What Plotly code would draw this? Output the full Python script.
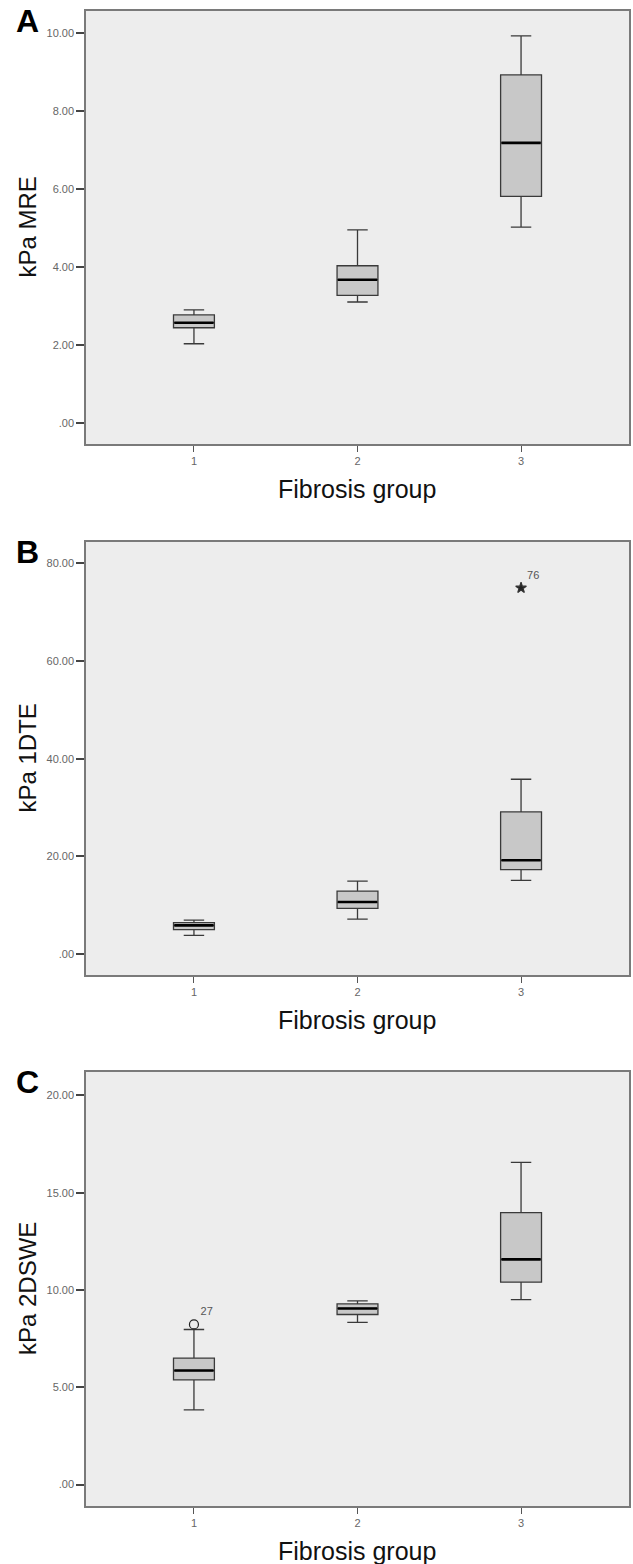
import plotly.graph_objects as go

W, H = 633, 1564

groups = [1, 2, 3]
group_labels = ["1", "2", "3"]

# Panel A: kPa MRE
mre_low = [2.03, 3.10, 5.02]
mre_q1 = [2.44, 3.27, 5.81]
mre_med = [2.57, 3.67, 7.18]
mre_q3 = [2.77, 4.03, 8.92]
mre_high = [2.90, 4.95, 9.92]

# Panel B: kPa 1DTE
dte_low = [3.82, 7.16, 15.1]
dte_q1 = [4.98, 9.35, 17.3]
dte_med = [5.87, 10.64, 19.2]
dte_q3 = [6.41, 12.9, 29.1]
dte_high = [6.96, 14.94, 35.8]
dte_out_x = [3]
dte_out_y = [75.0]
dte_out_lbl = ["76"]

# Panel C: kPa 2DSWE
swe_low = [3.84, 8.33, 9.5]
swe_q1 = [5.38, 8.74, 10.4]
swe_med = [5.86, 9.05, 11.57]
swe_q3 = [6.5, 9.29, 13.97]
swe_high = [7.97, 9.44, 16.56]
swe_out_x = [1]
swe_out_y = [8.23]
swe_out_lbl = ["27"]

mre_ticks = [0, 2, 4, 6, 8, 10]
dte_ticks = [0, 20, 40, 60, 80]
swe_ticks = [0, 5, 10, 15, 20]


def fx(px):
    return px / W


def fy(py):
    return 1 - py / H


panels = [
    dict(letter="A", title="kPa MRE", low=mre_low, q1=mre_q1, med=mre_med, q3=mre_q3, high=mre_high,
         ticks=mre_ticks, yr=[-0.54, 10.56], top=11, bot=444, out=None),
    dict(letter="B", title="kPa 1DTE", low=dte_low, q1=dte_q1, med=dte_med, q3=dte_q3, high=dte_high,
         ticks=dte_ticks, yr=[-4.3, 84.4], top=542, bot=975,
         out=(dte_out_x, dte_out_y, dte_out_lbl, "star")),
    dict(letter="C", title="kPa 2DSWE", low=swe_low, q1=swe_q1, med=swe_med, q3=swe_q3, high=swe_high,
         ticks=swe_ticks, yr=[-1.1, 21.2], top=1072, bot=1506,
         out=(swe_out_x, swe_out_y, swe_out_lbl, "circle-open")),
]

BOXW = 0.25
fig = go.Figure()
layout = dict(width=W, height=H, margin=dict(l=0, r=0, t=0, b=0),
              paper_bgcolor="white", plot_bgcolor="#ededed", showlegend=False,
              font=dict(family="Liberation Sans, Arial, sans-serif"))
annotations = []


def fmt(v):
    s = f"{v:.2f}"
    return s[1:] if s.startswith("0") else s


for i, p in enumerate(panels):
    k = "" if i == 0 else str(i + 1)
    xa, ya = "x" + k, "y" + k
    fig.add_trace(go.Box(
        x=groups, q1=p["q1"], median=p["med"], q3=p["q3"],
        lowerfence=p["low"], upperfence=p["high"],
        width=BOXW, whiskerwidth=0.5, fillcolor="#c8c8c8",
        line=dict(color="#3a3a3a", width=1.3), boxpoints=False,
        xaxis=xa, yaxis=ya, hoverinfo="skip"))
    mx, my = [], []
    for g, m in zip(groups, p["med"]):
        mx += [g - BOXW / 2 + 0.005, g + BOXW / 2 - 0.005, None]
        my += [m, m, None]
    fig.add_trace(go.Scatter(x=mx, y=my, mode="lines", line=dict(color="black", width=2.6),
                             xaxis=xa, yaxis=ya, hoverinfo="skip"))
    if p["out"] is not None:
        ox, oy, ol, sym = p["out"]
        fig.add_trace(go.Scatter(
            x=ox, y=oy, mode="markers+text", text=ol, textposition="top right",
            textfont=dict(size=11, color="#555"),
            marker=dict(symbol=sym, size=8 if sym == "star" else 9, color="#222",
                        line=dict(color="#333", width=1.2)),
            xaxis=xa, yaxis=ya, hoverinfo="skip"))
    layout["xaxis" + k] = dict(domain=[fx(86), fx(629)], range=[0.34, 3.66], anchor=ya,
                               tickmode="array", tickvals=groups, ticktext=group_labels,
                               ticks="outside", ticklen=6, tickcolor="#555", tickwidth=1,
                               tickfont=dict(size=11, color="#666"),
                               showgrid=False, zeroline=False, showline=True, mirror=True,
                               linecolor="#7a7a7a", linewidth=1.5)
    layout["yaxis" + k] = dict(domain=[fy(p["bot"]), fy(p["top"])], range=p["yr"], anchor=xa,
                               tickmode="array", tickvals=p["ticks"],
                               ticktext=[fmt(v) for v in p["ticks"]],
                               ticks="outside", ticklen=8, tickcolor="#444", tickwidth=1.5,
                               tickfont=dict(size=11, color="#666"),
                               showgrid=False, zeroline=False, showline=True, mirror=True,
                               linecolor="#7a7a7a", linewidth=1.5)
    annotations.append(dict(text=p["title"], x=fx(27), y=fy((p["top"] + p["bot"]) / 2),
                            xref="paper", yref="paper", textangle=-90, showarrow=False,
                            font=dict(size=24, color="#111"), xanchor="center", yanchor="middle"))
    annotations.append(dict(text="Fibrosis group", x=fx(357), y=fy(p["bot"] + 45),
                            xref="paper", yref="paper", showarrow=False,
                            font=dict(size=25, color="#111"), xanchor="center", yanchor="middle"))
    annotations.append(dict(text="<b>" + p["letter"] + "</b>", x=fx(27), y=fy(p["top"] + 10),
                            xref="paper", yref="paper", showarrow=False,
                            font=dict(size=32, color="black"), xanchor="center", yanchor="middle"))

layout["annotations"] = annotations
fig.update_layout(**layout)
fig.write_html("out.html", config={"displayModeBar": False},
               post_script="document.body.style.margin='0';document.body.style.overflow='hidden';")
